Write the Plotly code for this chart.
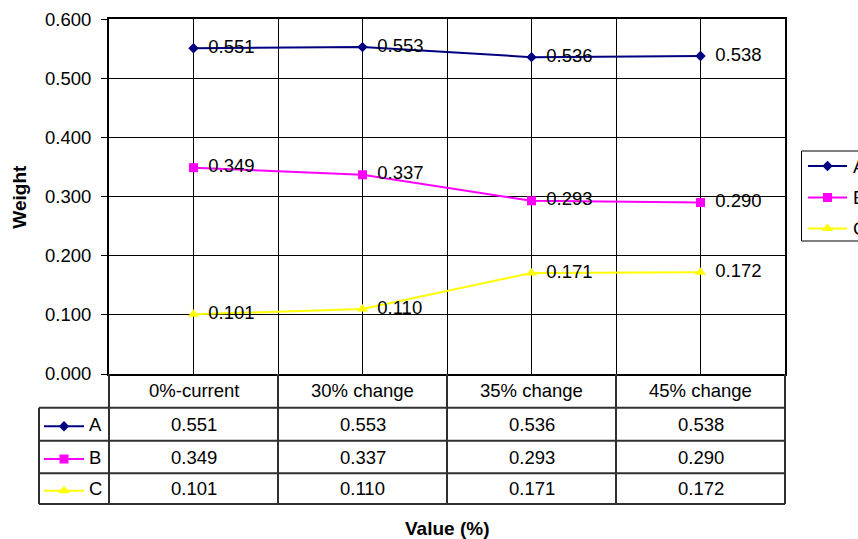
import plotly.graph_objects as go

# ---- chart data ----
categories = ["0%-current", "30% change", "35% change", "45% change"]
series_names = ["A", "B", "C"]
a_values = [0.551, 0.553, 0.536, 0.538]
b_values = [0.349, 0.337, 0.293, 0.290]
c_values = [0.101, 0.110, 0.171, 0.172]
y_ticks = [0.0, 0.1, 0.2, 0.3, 0.4, 0.5, 0.6]

series_values = [a_values, b_values, c_values]
series_colors = ["#000080", "#FF00FF", "#FFFF00"]
series_symbols = ["diamond", "square", "triangle-up"]
symbol_sizes = [8, 9, 10]

# ---- layout constants (pixels) ----
W, H = 858, 539
PLOT_L, PLOT_R, PLOT_T, PLOT_B = 109, 785, 19.3, 374
TABLE_L = 39
ROW_EDGES = [374, 407.7, 440.7, 473.3, 504]
FONT = "Liberation Sans, Arial, sans-serif"
FS = 18.5

fig = go.Figure()

xs = list(range(len(categories)))
for name, vals, col, sym, sz in zip(series_names, series_values, series_colors,
                                     series_symbols, symbol_sizes):
    fig.add_trace(go.Scatter(
        x=xs, y=vals, name=name, mode="lines+markers",
        line=dict(color=col, width=2),
        marker=dict(symbol=sym, size=sz, color=col),
        cliponaxis=False, showlegend=False, hoverinfo="skip",
    ))
# value labels beside each point (transparent spacer marker sets the gap)
for vals in series_values:
    fig.add_trace(go.Scatter(
        x=xs, y=vals, mode="markers+text",
        marker=dict(size=22, color="rgba(0,0,0,0)"),
        text=[f"{v:.3f}" for v in vals], textposition="middle right",
        textfont=dict(family=FONT, size=FS, color="black"),
        cliponaxis=False, showlegend=False, hoverinfo="skip",
    ))

shapes = []
annotations = []

# ---- data table under the plot ----
col_w = (PLOT_R - PLOT_L) / len(categories)
col_edges = [PLOT_L + i * col_w for i in range(len(categories) + 1)]
line_style = dict(color="#303030", width=2)

for yv in ROW_EDGES[1:]:
    shapes.append(dict(type="line", xref="x2", yref="y2", x0=TABLE_L, x1=PLOT_R,
                       y0=yv, y1=yv, line=line_style))
for xv in col_edges:
    shapes.append(dict(type="line", xref="x2", yref="y2", x0=xv, x1=xv,
                       y0=ROW_EDGES[0], y1=ROW_EDGES[-1], line=line_style))
shapes.append(dict(type="line", xref="x2", yref="y2", x0=TABLE_L, x1=TABLE_L,
                   y0=ROW_EDGES[1], y1=ROW_EDGES[-1], line=line_style))

# header labels
for i, cat in enumerate(categories):
    annotations.append(dict(xref="x2", yref="y2",
                            x=(col_edges[i] + col_edges[i + 1]) / 2,
                            y=(ROW_EDGES[0] + ROW_EDGES[1]) / 2,
                            text=cat, showarrow=False,
                            font=dict(family=FONT, size=FS, color="black")))

# value cells and row keys
for r, (name, vals) in enumerate(zip(series_names, series_values)):
    yc = (ROW_EDGES[r + 1] + ROW_EDGES[r + 2]) / 2
    for i, v in enumerate(vals):
        annotations.append(dict(xref="x2", yref="y2",
                                x=(col_edges[i] + col_edges[i + 1]) / 2, y=yc,
                                text=f"{v:.3f}", showarrow=False,
                                font=dict(family=FONT, size=FS, color="black")))
    annotations.append(dict(xref="x2", yref="y2", x=87, y=yc, xanchor="left",
                            text=name, showarrow=False,
                            font=dict(family=FONT, size=FS, color="black")))

# ---- key symbols (table keys and side legend) ----
legend_rows_y = [166, 197.5, 228.5]
key_sets = [
    (44, 84, [(ROW_EDGES[r + 1] + ROW_EDGES[r + 2]) / 2 + 2 for r in range(3)]),
    (808, 847, legend_rows_y),
]
for x0, x1, ys in key_sets:
    for r in range(3):
        fig.add_trace(go.Scatter(
            x=[x0, (x0 + x1) / 2, x1], y=[ys[r]] * 3, xaxis="x2", yaxis="y2",
            mode="lines", line=dict(color=series_colors[r], width=2),
            showlegend=False, hoverinfo="skip", cliponaxis=False))
        fig.add_trace(go.Scatter(
            x=[(x0 + x1) / 2], y=[ys[r]], xaxis="x2", yaxis="y2",
            mode="markers",
            marker=dict(symbol=series_symbols[r], size=symbol_sizes[r],
                        color=series_colors[r]),
            showlegend=False, hoverinfo="skip", cliponaxis=False))

# side legend frame and labels
shapes.append(dict(type="rect", xref="x2", yref="y2", x0=801.5, x1=880,
                   y0=151, y1=241, line=dict(color="black", width=1)))
for name, yv in zip(series_names, legend_rows_y):
    annotations.append(dict(xref="x2", yref="y2", x=851, y=yv, xanchor="left",
                            text=name, showarrow=False,
                            font=dict(family=FONT, size=FS, color="black")))

# axis titles
annotations.append(dict(xref="x2", yref="y2", x=20, y=(PLOT_T + PLOT_B) / 2,
                        text="<b>Weight</b>", textangle=-90, showarrow=False,
                        font=dict(family=FONT, size=19, color="black")))
annotations.append(dict(xref="x2", yref="y2", x=(PLOT_L + PLOT_R) / 2, y=528,
                        text="<b>Value (%)</b>", showarrow=False,
                        font=dict(family=FONT, size=19, color="black")))

fig.update_layout(
    width=W, height=H,
    margin=dict(l=0, r=0, t=0, b=0, pad=0),
    paper_bgcolor="white", plot_bgcolor="rgba(0,0,0,0)",
    font=dict(family=FONT, size=FS, color="black"),
    xaxis=dict(domain=[PLOT_L / W, PLOT_R / W], range=[-0.5, len(categories) - 0.5],
               tickmode="linear", tick0=-0.5, dtick=0.5, automargin=False,
               showgrid=True, gridcolor="black", gridwidth=1,
               showticklabels=False, ticks="", zeroline=False,
               showline=True, mirror=True, linecolor="black", linewidth=2),
    yaxis=dict(domain=[1 - PLOT_B / H, 1 - PLOT_T / H], range=[0, 0.6],
               tickmode="array", tickvals=y_ticks, automargin=False,
               ticktext=[f"{t:.3f}" for t in y_ticks],
               showgrid=True, gridcolor="black", gridwidth=1,
               ticks="outside", ticklen=6, tickcolor="black", tickwidth=1,
               ticklabelstandoff=6,
               tickfont=dict(family=FONT, size=FS, color="black"),
               zeroline=False,
               showline=True, mirror=True, linecolor="black", linewidth=2),
    xaxis2=dict(domain=[0, 1], range=[0, W], visible=False, anchor="y2",
                automargin=False),
    yaxis2=dict(domain=[0, 1], range=[H, 0], visible=False, anchor="x2",
                automargin=False),
    shapes=shapes, annotations=annotations,
    showlegend=False,
)

fig.write_html("out.html")
